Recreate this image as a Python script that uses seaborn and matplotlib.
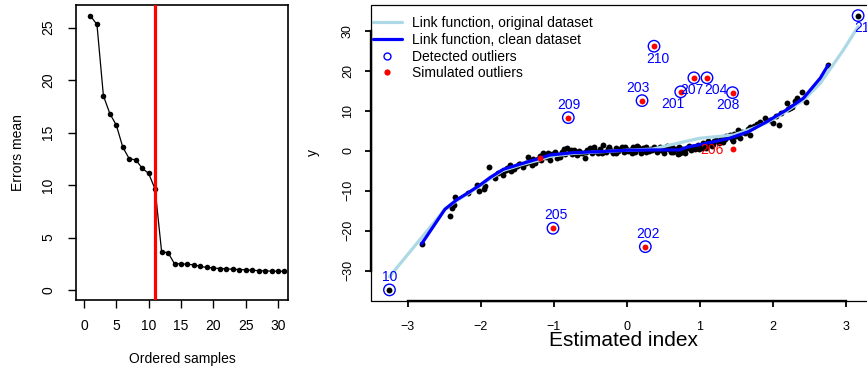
import matplotlib
matplotlib.use("Agg")
import matplotlib.pyplot as plt
from matplotlib.lines import Line2D
from matplotlib.patches import Rectangle
import seaborn as sns
import numpy as np
import pandas as pd

sns.set_theme(style="ticks")
plt.rcParams['font.family'] = ['Liberation Sans', 'DejaVu Sans']
plt.rcParams['text.color'] = 'black'
plt.rcParams['axes.labelcolor'] = 'black'
plt.rcParams['xtick.color'] = 'black'
plt.rcParams['ytick.color'] = 'black'

# ---------------- data: left panel ----------------
sample_rank = list(range(1, 32))
errors_mean = [26.1, 25.3, 18.5, 16.8, 15.7, 13.6, 12.5, 12.4, 11.6, 11.1, 9.6,
               3.65, 3.55, 2.5, 2.5, 2.45, 2.4, 2.25, 2.15, 2.1, 2.05, 2.02,
               1.98, 1.95, 1.93, 1.88, 1.85, 1.83, 1.8, 1.79, 1.78]
cutoff = 11

# ---------------- data: right panel ----------------
index_x = [-3.25, -2.81, -2.42, -2.40, -2.37, -2.35, -2.17, -2.05, -2.02, -1.96, -1.94,
           -1.89, -1.80, -1.76, -1.70, -1.66, -1.64, -1.60, -1.55, -1.50, -1.46, -1.42,
           -1.38, -1.35, -1.32, -1.28, -1.26, -1.22, -1.17, -1.14, -1.10, -1.05, -1.02,
           -0.98, -0.95, -0.91, -0.88, -0.85, -0.82, -0.78, -0.75, -0.72, -0.68, -0.65,
           -0.61, -0.57, -0.54, -0.50, -0.47, -0.43, -0.40, -0.36, -0.32, -0.29, -0.26,
           -0.23, -0.19, -0.15, -0.12, -0.09, -0.07, -0.04, -0.01, 0.02, 0.05, 0.08,
           0.11, 0.14, 0.17, 0.20, 0.23, 0.27, 0.30, 0.33, 0.37, 0.41, 0.44, 0.47, 0.51,
           0.55, 0.58, 0.61, 0.64, 0.67, 0.70, 0.73, 0.76, 0.79, 0.82, 0.85, 0.88, 0.91,
           0.94, 0.97, 1.00, 1.03, 1.05, 1.08, 1.11, 1.14, 1.17, 1.20, 1.23, 1.26, 1.29,
           1.32, 1.35, 1.38, 1.41, 1.44, 1.47, 1.50, 1.53, 1.55, 1.58, 1.62, 1.66, 1.69,
           1.69, 1.74, 1.79, 1.83, 1.89, 1.96, 2.01, 2.08, 2.12, 2.19, 2.21, 2.24, 2.26,
           2.33, 2.40, 2.76, 3.17,
           -1.70, -1.58, -1.48, -1.30, -1.19, -1.08, -0.96, -0.86, -0.76, -0.66, -0.56,
           -0.45, -0.34, -0.24, -0.14, -0.03, 0.07, 0.16, 0.26, 0.35, 0.45, 0.53, 0.62,
           0.71, 0.80, 0.89, 0.99, 1.09, 1.18, 1.27, 1.36, 1.45, 2.05, 2.30, 2.45]
y_obs = [-34.8, -23.3, -16.3, -14.4, -13.6, -11.7, -10.5, -8.6, -10.0, -9.7, -8.8,
         -4.2, -6.9, -5.6, -5.3, -4.9, -4.4, -3.6, -4.6, -3.9, -3.3, -4.2,
         -3.0, -1.5, -2.75, -2.2, -3.2, -2.0, -2.4, -0.65, -1.5, -2.3, -0.9,
         -0.25, -1.2, -1.5, -0.3, -0.8, 0.6, -0.4, -0.9, 0.2, -1.1, -0.2,
         -0.6, -1.9, 0.1, 0.6, -0.5, -0.1, -0.7, 0.3, 1.4, -0.3, 0.4,
         0.2, -0.5, 0.7, -0.2, 0.3, 1.0, -0.4, 0.5, 0.0, 0.2, 0.9,
         -0.3, 1.2, 0.3, -0.5, 0.6, 0.85, -0.2, 0.4, 0.9, -0.25, 0.5, 0.1, -0.6,
         1.2, 0.3, -0.4, -0.25, 0.5, -0.9, -0.65, 0.4, -0.2, 0.6, 1.2, 0.2, 1.0,
         0.5, 1.5, 1.0, 0.6, 1.85, 1.3, 2.3, 1.6, 1.1, 2.4, 2.7, 1.8, 3.0,
         2.25, 2.9, 3.4, 3.9, 2.8, 4.1, 3.6, 5.2, 3.1, 4.6, 4.35, 5.5, 3.9,
         5.85, 6.2, 6.6, 7.25, 8.1, 7.7, 7.0, 6.4, 9.35, 11.85, 10.3, 10.6, 11.0,
         13.1, 14.75, 21.4, 33.75,
         -6.0, -5.0, -3.4, -3.6, -1.3, -0.6, -1.8, 0.4, 0.1, -0.7, -0.4,
         0.8, -0.5, 1.0, -0.6, 0.8, -0.6, 0.9, -0.3, 0.2, 1.0, 0.5, 0.9,
         0.8, -0.6, 0.4, 0.3, 0.7, 1.7, 2.2, 3.7, 2.3, 8.6, 12.5, 12.2]

# simulated outliers 201..210 (+ one unlabeled simulated point on the curve)
sim_ids = [201, 202, 203, 204, 205, 206, 207, 208, 209, 210]
sim_x = [0.74, 0.255, 0.21, 1.10, -1.01, 1.45, 0.92, 1.45, -0.80, 0.374]
sim_y = [14.7, -24.0, 12.5, 18.2, -19.4, 0.5, 18.2, 14.5, 8.25, 26.1]
extra_sim_x = [-1.19]
extra_sim_y = [-1.9]

# detected outliers
det_ids = [10, 211, 201, 202, 203, 204, 205, 207, 208, 209, 210]
det_x = [-3.25, 3.17, 0.74, 0.255, 0.21, 1.10, -1.01, 0.92, 1.45, -0.80, 0.374]
det_y = [-34.8, 33.75, 14.7, -24.0, 12.5, 18.2, -19.4, 18.2, 14.5, 8.25, 26.1]

# link functions
link_orig_x = [-3.25, -2.49, -2.33, -2.17, -2.01, -1.87, -1.70, -1.42, -1.19, -1.05,
               -0.73, -0.37, 0.0, 0.36, 0.59, 1.0, 1.46, 1.73, 1.92, 2.19, 2.42,
               2.65, 2.97, 3.17]
link_orig_y = [-31.5, -14.65, -12.5, -10.7, -8.8, -7.0, -5.0, -3.4, -2.3, -1.4,
               -0.7, -0.3, 0.1, 0.4, 1.4, 3.1, 3.9, 5.6, 7.0, 9.9, 12.6,
               16.8, 25.2, 31.0]
link_clean_x = [-2.81, -2.49, -2.33, -2.17, -2.01, -1.87, -1.69, -1.42, -1.19, -1.05,
                -0.73, -0.37, 0.0, 0.36, 0.73, 0.82, 1.19, 1.41, 1.67, 1.92, 2.19,
                2.42, 2.65, 2.76]
link_clean_y = [-23.3, -14.65, -12.3, -10.5, -8.6, -6.7, -4.65, -3.15, -1.9, -1.08,
                -0.5, -0.25, 0.1, 0.18, 0.18, 0.85, 2.2, 3.1, 4.75, 7.25, 10.2,
                13.1, 18.1, 21.4]

# label offsets (points) for id labels
det_offsets = {10: (0.5, 9.1), 211: (5.5, -9.1), 201: (-5.4, -8.9), 202: (2.2, 9.1),
               203: (-3.1, 8.9), 204: (6.3, -8.6), 205: (2.4, 9.6), 207: (-1.4, -8.6),
               208: (-3.2, -8.9), 209: (0.5, 9.1), 210: (2.7, -9.4)}

# ---------------- figure ----------------
fig = plt.figure(figsize=(8.67, 3.71), dpi=100)
W, H = 867, 371
ax1 = fig.add_axes([76 / W, 1 - 300 / H, 212 / W, 295 / H])
ax2 = fig.add_axes([370.7 / W, 1 - 300.7 / H, 505.3 / W, 295.7 / H])

# left panel
df_left = pd.DataFrame({"rank": sample_rank, "err": errors_mean})
sns.lineplot(data=df_left, x="rank", y="err", ax=ax1, color="black", lw=0.9,
             marker="o", markersize=4, markeredgewidth=0, estimator=None)
ax1.axvline(cutoff, color="red", lw=2.3, zorder=3)
ax1.set_xlim(-1.24, 31.55)
ax1.set_ylim(-0.95, 27.15)
ax1.set_xticks(range(0, 31, 5))
ax1.set_yticks(range(0, 26, 5))
ax1.tick_params(axis="both", labelsize=10, length=5.5, width=1.0, color="black",
                direction="out")
ax1.tick_params(axis="x", pad=8.5)
ax1.tick_params(axis="y", pad=9.5)
for t in ax1.get_yticklabels():
    t.set_rotation(90)
    t.set_va("center")
for s in ax1.spines.values():
    s.set_linewidth(1.2)
    s.set_color("black")
ax1.set_xlabel("Ordered samples", fontsize=10)
ax1.set_ylabel("Errors mean", fontsize=10)
ax1.xaxis.set_label_coords(0.5, -0.2)
ax1.xaxis.label.set_va("center")
ax1.yaxis.set_label_coords(-0.274, 0.5)
ax1.yaxis.label.set_va("center")

# right panel
df_pts = pd.DataFrame({"x": index_x, "y": y_obs})
sns.scatterplot(data=df_pts, x="x", y="y", ax=ax2, color="black", s=18,
                linewidth=0, zorder=2, legend=False)
sns.lineplot(x=link_orig_x, y=link_orig_y, ax=ax2, color="#ADD8E6", lw=2.3,
             sort=False, estimator=None, zorder=3)
sns.lineplot(x=link_clean_x, y=link_clean_y, ax=ax2, color="#0000FF", lw=2.3,
             sort=False, estimator=None, zorder=4)
sns.scatterplot(x=sim_x + extra_sim_x, y=sim_y + extra_sim_y, ax=ax2, color="#FF0000",
                s=18, linewidth=0, zorder=5, legend=False)
ax2.scatter(det_x, det_y, s=68, facecolors="none", edgecolors="#0000FF",
            linewidths=1.0, zorder=6)

for i, xx, yy in zip(det_ids, det_x, det_y):
    ax2.annotate(str(i), (xx, yy), xytext=det_offsets[i], textcoords="offset points",
                 ha="center", va="center", color="#0000FF", fontsize=10, zorder=7)
i206 = sim_ids.index(206)
ax2.annotate("206", (sim_x[i206], sim_y[i206]), xytext=(-15.1, -0.7),
             textcoords="offset points", ha="center", va="center",
             color="#FF0000", fontsize=10, zorder=7)

ax2.set_xlim(-3.507, 3.415)
ax2.set_ylim(-37.5, 36.4)
ax2.set_xticks(range(-3, 4))
ax2.set_yticks(range(-30, 31, 10))
ax2.set_xticklabels(["\u22123", "\u22122", "\u22121", "0", "1", "2", "3"])
ax2.set_yticklabels(["\u221230", "\u221220", "\u221210", "0", "10", "20", "30"])
ax2.tick_params(axis="both", labelsize=9, length=4.5, width=1.3, color="black",
                direction="out")
ax2.tick_params(axis="x", pad=10)
ax2.tick_params(axis="y", pad=7.5)
for t in ax2.get_yticklabels():
    t.set_rotation(90)
    t.set_va("center")
for name in ["top", "right"]:
    ax2.spines[name].set_visible(False)
ax2.spines["left"].set_bounds(-30, 30)
ax2.spines["bottom"].set_bounds(-3, 3)
ax2.spines["left"].set_linewidth(1.7)
ax2.spines["bottom"].set_linewidth(1.7)
for s in ax2.spines.values():
    s.set_color("black")
ax2.add_patch(Rectangle((0, 0), 1, 1, transform=ax2.transAxes, fill=False,
                        lw=0.9, edgecolor="black", zorder=10, clip_on=False))
ax2.set_xlabel("Estimated index", fontsize=15)
ax2.xaxis.set_label_coords(0.5, -0.136)
ax2.xaxis.label.set_va("center")
ax2.set_ylabel("y", fontsize=10)
ax2.yaxis.set_label_coords(-0.114, 0.5)
ax2.yaxis.label.set_va("center")

handles = [
    Line2D([], [], color="#ADD8E6", lw=2.3),
    Line2D([], [], color="#0000FF", lw=2.3),
    Line2D([], [], ls="none", marker="o", markerfacecolor="none",
           markeredgecolor="#0000FF", markersize=5, markeredgewidth=1.0),
    Line2D([], [], ls="none", marker="o", color="#FF0000", markersize=4.5,
           markeredgewidth=0),
]
labels = ["Link function, original dataset", "Link function, clean dataset",
          "Detected outliers", "Simulated outliers"]
ax2.legend(handles, labels, loc="upper left", bbox_to_anchor=(0.0046, 0.962),
           frameon=False, fontsize=10, handlelength=2.07, handletextpad=0.74,
           labelspacing=0.19, borderpad=0, borderaxespad=0)

fig.savefig("out.png", dpi=100)
